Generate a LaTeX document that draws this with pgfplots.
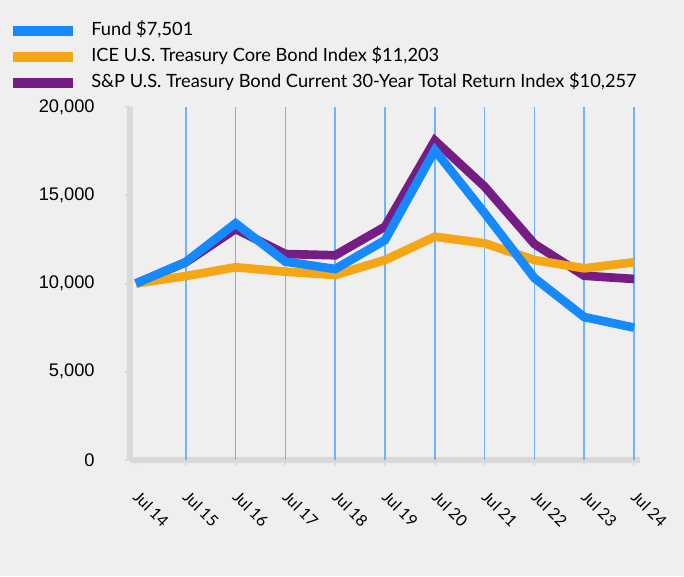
\documentclass[border=0pt]{standalone}
\usepackage{fontspec}
\setmainfont{Lato}
\newfontfamily\tickfont{Liberation Sans}
\usepackage{pgfplots}
\pgfplotsset{compat=1.18}
\definecolor{bgc}{HTML}{EFEFEF}
\definecolor{axgray}{HTML}{D9D9D9}
\definecolor{gridblue}{HTML}{6DB3FF}
\definecolor{fundblue}{HTML}{1689FC}
\definecolor{iceorange}{HTML}{F4A615}
\definecolor{sppurple}{HTML}{761C85}
\begin{document}
\begin{tikzpicture}
\fill[bgc] (0,0) rectangle (513pt,432pt);
\path[use as bounding box] (0,0) rectangle (513pt,432pt);
\begin{axis}[
  at={(97.5pt,87pt)}, anchor=south west,
  scale only axis, width=382.5pt, height=264.75pt,
  xmin=-0.12, xmax=10.12, ymin=0, ymax=20000,
  axis x line=bottom, axis y line=left,
  axis line style={line width=4.5pt, color=axgray, -},
  tick align=outside, major tick length=4pt,
  tick style={color=axgray, line width=1.5pt},
  xtick={0,...,10},
  xticklabels={Jul 14,Jul 15,Jul 16,Jul 17,Jul 18,Jul 19,Jul 20,Jul 21,Jul 22,Jul 23,Jul 24},
  xticklabel style={font=\fontsize{12}{14}\selectfont, xshift=3.4pt, yshift=-13.5pt, rotate=-45, anchor=north west},
  extra x ticks={1,...,10},
  extra x tick labels={},
  extra x tick style={grid=major, major tick length=0pt},
  grid style={color=gridblue, line width=1.1pt},
  ytick={0,5000,10000,15000,20000},
  scaled y ticks=false,
  yticklabel style={font=\tickfont\fontsize{13.7}{16}\selectfont, /pgf/number format/1000 sep={,}, /pgf/number format/assume math mode=true, xshift=-19pt},
  clip=false,
  reverse legend,
  legend cell align=left,
  legend image code/.code={\draw[#1, line width=7.5pt] (0pt,0pt) -- (45pt,0pt);},
  legend style={at={(axis description cs:-0.247,1.248)}, anchor=north west, draw=none, fill=none,
    font=\fontsize{13.7}{16}\selectfont, row sep=7pt,
    nodes={inner sep=0pt, text height=9.5pt, text depth=3pt},
    /tikz/every odd column/.append style={column sep=9.75pt}},
]
\addplot[sppurple, line width=6.5pt] coordinates {(0,10000) (1,11200) (2,13090) (3,11670) (4,11600) (5,13220) (6,18100) (7,15490) (8,12240) (9,10440) (10,10257)};
\addlegendentry{S\&P U.S. Treasury Bond Current 30-Year Total Return Index \$10,257}
\addplot[iceorange, line width=6.5pt] coordinates {(0,10000) (1,10420) (2,10920) (3,10670) (4,10480) (5,11330) (6,12650) (7,12280) (8,11330) (9,10860) (10,11203)};
\addlegendentry{ICE U.S. Treasury Core Bond Index \$11,203}
\addplot[fundblue, line width=6.5pt] coordinates {(0,10000) (1,11220) (2,13410) (3,11240) (4,10820) (5,12460) (6,17550) (7,13990) (8,10310) (9,8100) (10,7501)};
\addlegendentry{Fund \$7,501}
\end{axis}
\end{tikzpicture}
\end{document}
